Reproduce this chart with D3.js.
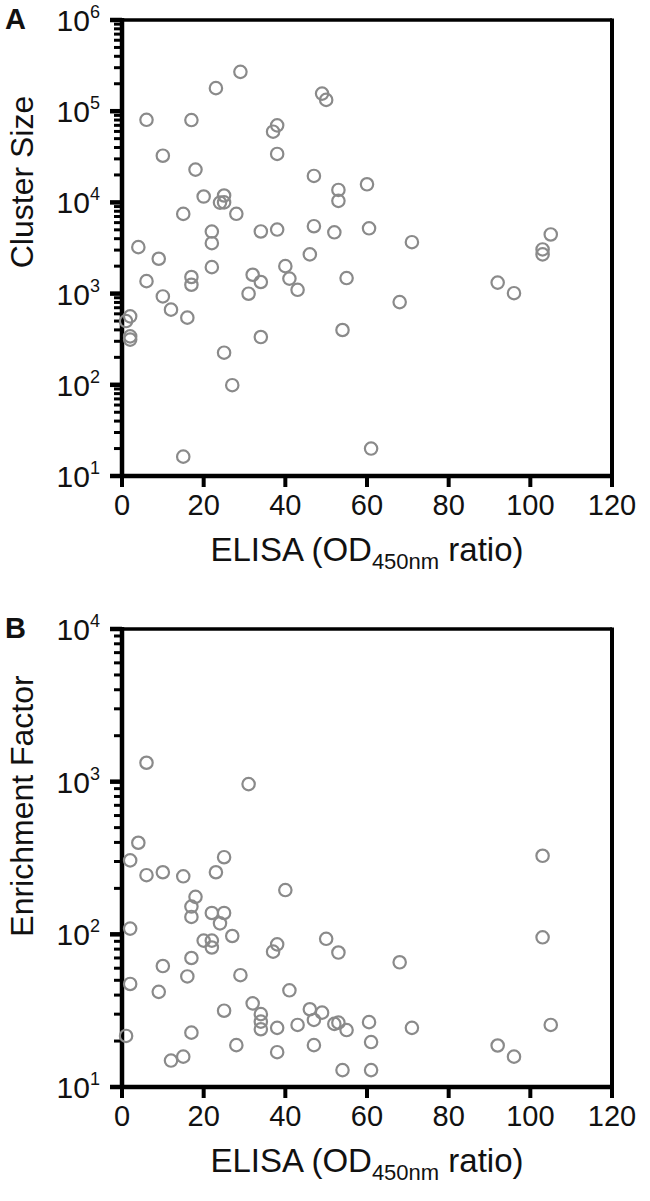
<!DOCTYPE html>
<html><head><meta charset="utf-8">
<script src="https://cdn.jsdelivr.net/npm/d3@7/dist/d3.min.js"></script>
<style>
body{margin:0;background:#fff}
text{font-family:"Liberation Sans",Arial,Helvetica,sans-serif;fill:#111}
</style>
</head><body>
<svg id="chart" width="650" height="1201"></svg>
<script>
// ---- data ----
const elisaA = [6,17,23,29,49,50,10,18,38,37,38,47,53,53,60,20,25,24,25,15,28,22,22,34,38,47,52,60.5,4,46,9,6,10,12,16,17,17,22,1,2,2,2,15,25,27,31,32,34,34,40,41,43,55,54,61,71,68,92,96,103,103,105];
const clusterSize = [80500,80000,179000,270000,156000,133000,32500,22900,70000,59600,34000,19500,13700,10400,15800,11600,11900,9950,10000,7480,7500,4790,3570,4800,5040,5480,4700,5200,3230,2690,2410,1370,931,667,545,1520,1250,1950,500,563,340,313,16.3,225,99,997,1610,1340,334,2000,1460,1100,1480,399,20,3660,807,1320,1010,3050,2690,4450];

const elisaB = [6,31,4,2,25,6,10,15,23,18,17,17,22,25,24,40,27,20,22,22,2,38,37,50,53,17,10,16,2,9,29,41,25,32,34,34,34,38,43,46,47,49,52,53,55,60.5,61,61,54,47,38,28,17,15,12,1,103,103,68,71,92,96,105];
const enrichment = [1330,964,398,305,320,244,255,240,255,176,152,130,138,138,118,195,97.5,91,91,82,109,86,77,93.5,76,70,62,53,47.3,42,54,43,31.6,35.3,30,26.8,23.9,24.4,25.5,32.3,27.5,30.7,25.9,26.4,23.6,26.6,19.7,12.9,12.9,18.8,16.9,18.8,22.7,15.8,14.9,21.6,327,95.6,65.6,24.4,18.7,15.8,25.5];

const xTicks = [0,20,40,60,80,100,120];
const yTicksA = [1e1,1e2,1e3,1e4,1e5,1e6];
const yTicksB = [1e1,1e2,1e3,1e4];

const svg = d3.select("#chart");
const X0 = 122, X1 = 612;

function panel(cfg){
  const g = svg.append("g");
  const x = d3.scaleLinear().domain([0,120]).range([X0,X1]);
  const y = d3.scaleLog().domain([cfg.yTicks[0], cfg.yTicks[cfg.yTicks.length-1]]).range([cfg.bottom, cfg.top]);

  // minor ticks
  const minor = y.ticks().filter(v => Math.abs(Math.log10(v) - Math.round(Math.log10(v))) > 1e-6);
  g.selectAll(".minor").data(minor).join("line")
    .attr("x1", X0-8).attr("x2", X0).attr("y1", d=>y(d)).attr("y2", d=>y(d))
    .attr("stroke","#000").attr("stroke-width",3);
  g.selectAll(".major").data(cfg.yTicks).join("line")
    .attr("x1", X0-12).attr("x2", X0).attr("y1", d=>y(d)).attr("y2", d=>y(d))
    .attr("stroke","#000").attr("stroke-width",4.5);

  // x ticks
  g.selectAll(".xt").data(xTicks).join("line")
    .attr("x1", d=>x(d)).attr("x2", d=>x(d)).attr("y1", cfg.bottom).attr("y2", cfg.bottom+11)
    .attr("stroke","#000").attr("stroke-width",4);

  // frame
  g.append("line").attr("x1",X0).attr("x2",X1).attr("y1",cfg.top).attr("y2",cfg.top).attr("stroke","#000").attr("stroke-width",3.5);
  g.append("line").attr("x1",X1).attr("x2",X1).attr("y1",cfg.top-1.5).attr("y2",cfg.bottom+2).attr("stroke","#000").attr("stroke-width",4);
  g.append("line").attr("x1",X0).attr("x2",X0).attr("y1",cfg.top-2).attr("y2",cfg.bottom+2).attr("stroke","#000").attr("stroke-width",4.5);
  g.append("line").attr("x1",X0-2).attr("x2",X1+2).attr("y1",cfg.bottom).attr("y2",cfg.bottom).attr("stroke","#000").attr("stroke-width",4.5);

  // y tick labels
  const yl = g.selectAll(".yl").data(cfg.yTicks).join("text")
    .attr("x", X0-22).attr("y", d=>y(d)+11).attr("text-anchor","end").attr("font-size",30);
  yl.append("tspan").text("10");
  yl.append("tspan").attr("dy",-13).attr("font-size",18).text(d=>Math.round(Math.log10(d)));

  // x tick labels
  g.selectAll(".xl").data(xTicks).join("text")
    .attr("x", d=>x(d)).attr("y", cfg.bottom+39).attr("text-anchor","middle").attr("font-size",29)
    .text(d=>d);

  // x title
  const xt = g.append("text").attr("x",(X0+X1)/2).attr("y",cfg.bottom+85).attr("text-anchor","middle").attr("font-size",33);
  xt.append("tspan").text("ELISA (OD");
  xt.append("tspan").attr("font-size",22).attr("dy",8).text("450nm");
  xt.append("tspan").attr("dy",-8).text(" ratio)");

  // y title
  g.append("text").attr("transform",`translate(${cfg.titleX},${cfg.titleY}) rotate(-90)`)
    .attr("text-anchor","middle").attr("font-size",32).text(cfg.yTitle);

  // panel letter
  g.append("text").attr("x",5).attr("y",cfg.top+9).attr("font-size",29).attr("font-weight","bold").text(cfg.letter);

  // points
  const pts = cfg.xs.map((v,i)=>({x:v,y:cfg.ys[i]}));
  g.selectAll(".pt").data(pts).join("circle")
    .attr("cx",d=>x(d.x)).attr("cy",d=>y(d.y)).attr("r",6.2)
    .attr("fill","none").attr("stroke","#8a8a8a").attr("stroke-width",2.2);
}

panel({top:20,bottom:476,yTicks:yTicksA,xs:elisaA,ys:clusterSize,yTitle:"Cluster Size",titleX:33,titleY:182,letter:"A"});
panel({top:629,bottom:1087,yTicks:yTicksB,xs:elisaB,ys:enrichment,yTitle:"Enrichment Factor",titleX:33,titleY:806,letter:"B"});
</script>
</body></html>
